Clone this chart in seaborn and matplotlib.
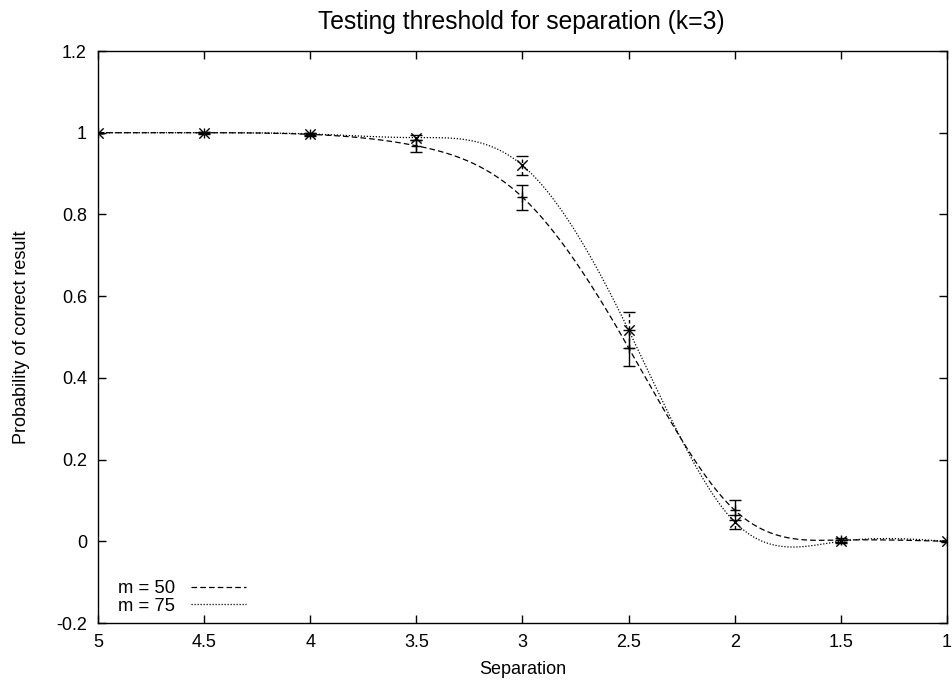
import numpy as np
import pandas as pd
import matplotlib
matplotlib.use("Agg")
import matplotlib.pyplot as plt
from matplotlib.lines import Line2D
import seaborn as sns

# ---- data ----
separation = [5.0, 4.5, 4.0, 3.5, 3.0, 2.5, 2.0, 1.5, 1.0]
m50 = [1.0, 1.0, 0.996, 0.968, 0.842, 0.474, 0.076, 0.003, 0.0]
m50_err = [0.0, 0.002, 0.004, 0.015, 0.031, 0.044, 0.025, 0.004, 0.001]
m75 = [1.0, 1.0, 0.997, 0.988, 0.920, 0.517, 0.047, 0.0, 0.0]
m75_err = [0.0, 0.001, 0.003, 0.006, 0.024, 0.044, 0.018, 0.003, 0.0]
series_labels = ["m = 50", "m = 75"]
xticks = [5, 4.5, 4, 3.5, 3, 2.5, 2, 1.5, 1]
xtick_labels = ["5", "4.5", "4", "3.5", "3", "2.5", "2", "1.5", "1"]
yticks = [-0.2, 0, 0.2, 0.4, 0.6, 0.8, 1.0, 1.2]
ytick_labels = ["-0.2", "0", "0.2", "0.4", "0.6", "0.8", "1", "1.2"]


def natural_cspline(x, y, num=400):
    """Natural cubic spline through the data points (like gnuplot 'smooth csplines')."""
    order = np.argsort(x)
    x = np.asarray(x, float)[order]
    y = np.asarray(y, float)[order]
    n = len(x)
    h = np.diff(x)
    A = np.zeros((n, n))
    b = np.zeros(n)
    A[0, 0] = 1.0
    A[-1, -1] = 1.0
    for i in range(1, n - 1):
        A[i, i - 1] = h[i - 1]
        A[i, i] = 2 * (h[i - 1] + h[i])
        A[i, i + 1] = h[i]
        b[i] = 6 * ((y[i + 1] - y[i]) / h[i] - (y[i] - y[i - 1]) / h[i - 1])
    M = np.linalg.solve(A, b)
    xs = np.linspace(x[0], x[-1], num)
    idx = np.clip(np.searchsorted(x, xs) - 1, 0, n - 2)
    x0, x1 = x[idx], x[idx + 1]
    y0, y1 = y[idx], y[idx + 1]
    M0, M1 = M[idx], M[idx + 1]
    hh = x1 - x0
    t1 = x1 - xs
    t0 = xs - x0
    ys = (M0 * t1**3 + M1 * t0**3) / (6 * hh) + (y0 / hh - M0 * hh / 6) * t1 + (y1 / hh - M1 * hh / 6) * t0
    return xs, ys


sns.set_style("ticks")
plt.rcParams["font.family"] = ["Liberation Sans", "DejaVu Sans"]
plt.rcParams["text.color"] = "black"
plt.rcParams["axes.labelcolor"] = "black"
plt.rcParams["xtick.color"] = "black"
plt.rcParams["ytick.color"] = "black"

fig = plt.figure(figsize=(9.53, 6.82), dpi=100)
ax = fig.add_axes([98 / 953, 59 / 682, (947 - 98) / 953, (623 - 51) / 682])

styles = [(0, (4.5, 2.5)), (0, (1.0, 1.4))]
markers = ["+", "x"]
rows = []
for lab, vals in zip(series_labels, [m50, m75]):
    xs, ys = natural_cspline(separation, vals)
    rows.append(pd.DataFrame({"x": xs, "y": ys, "series": lab}))
curves = pd.concat(rows, ignore_index=True)

for lab, ls in zip(series_labels, styles):
    sub = curves[curves["series"] == lab]
    sns.lineplot(data=sub, x="x", y="y", ax=ax, color="black", linewidth=0.9,
                 sort=False, estimator=None, legend=False, linestyle=ls)

for vals, errs, mk, ls in zip([m50, m75], [m50_err, m75_err], markers, styles):
    eb = ax.errorbar(separation, vals, yerr=errs, fmt="none", ecolor="black",
                     elinewidth=1.0, capsize=4, capthick=1.0)
    if mk == "x":
        eb[2][0].set_linestyle((0, (2.5, 2.0)))
        for c in eb[1]:
            c.set_linestyle("none")
    sns.scatterplot(x=separation, y=vals, ax=ax, marker=mk, color="black",
                    s=55, linewidth=1.0, legend=False, zorder=5)

ax.set_xlim(5, 1)
ax.set_ylim(-0.2, 1.2)
ax.set_xticks(xticks)
ax.set_xticklabels(xtick_labels)
ax.set_yticks(yticks)
ax.set_yticklabels(ytick_labels)
ax.tick_params(direction="in", length=6, width=1.0, top=True, right=True,
               labelsize=13, pad=8, colors="black")
for sp in ax.spines.values():
    sp.set_linewidth(1.0)
    sp.set_color("black")

ax.set_xlabel("Separation", fontsize=13, labelpad=7)
ax.set_ylabel("Probability of correct result", fontsize=13, labelpad=19)
fig.text(521.5 / 953, 1 - 22 / 682, "Testing threshold for separation (k=3)",
         ha="center", va="center", fontsize=17.7)

handles = [Line2D([0], [0], color="black", lw=0.9, linestyle=ls) for ls in styles]
ax.legend(handles, series_labels, loc="upper left",
          bbox_to_anchor=(118 / 953, 1 - 580 / 682), bbox_transform=fig.transFigure,
          frameon=False, markerfirst=False, fontsize=13.3, handlelength=3.0,
          handletextpad=0.85, labelspacing=0.05, borderpad=0, borderaxespad=0)

fig.savefig("out.png", dpi=100)
